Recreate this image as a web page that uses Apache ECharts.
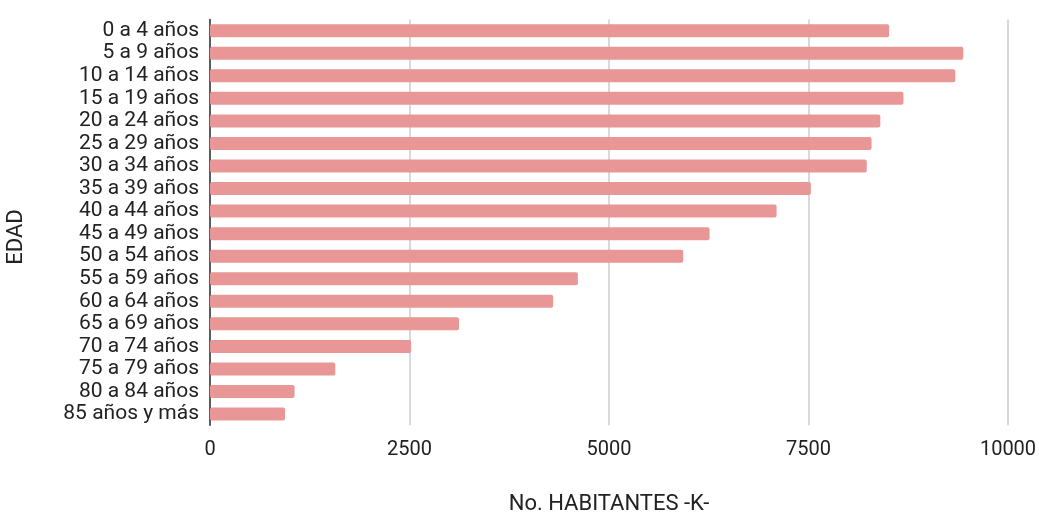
<!DOCTYPE html>
<html>
<head>
<meta charset="utf-8">
<script src="https://cdn.jsdelivr.net/npm/echarts@6/dist/echarts.min.js"></script>
<style>
  html, body { margin: 0; padding: 0; background: #fff; }
  #chart { width: 1039px; height: 512px; }
</style>
</head>
<body>
<div id="chart"></div>
<script>
// Age groups, top to bottom
const categories = [
  '0 a 4 años', '5 a 9 años', '10 a 14 años', '15 a 19 años', '20 a 24 años',
  '25 a 29 años', '30 a 34 años', '35 a 39 años', '40 a 44 años', '45 a 49 años',
  '50 a 54 años', '55 a 59 años', '60 a 64 años', '65 a 69 años', '70 a 74 años',
  '75 a 79 años', '80 a 84 años', '85 años y más'
];
// Inhabitants (thousands) per age group
const habitantes = [
  8510, 9440, 9340, 8690, 8400,
  8290, 8230, 7530, 7100, 6260,
  5930, 4610, 4300, 3120, 2520,
  1570, 1060, 940
];
const xTicks = { min: 0, max: 10000, interval: 2500 };

const font = 'Roboto, "Liberation Sans", Arial, sans-serif';
const chart = echarts.init(document.getElementById('chart'), null, { renderer: 'canvas' });

chart.setOption({
  animation: false,
  grid: {
    left: 210, right: 31, top: 19.4, bottom: 86.7,
    containLabel: false,
    outerBoundsMode: 'none'
  },
  xAxis: {
    type: 'value',
    min: xTicks.min, max: xTicks.max, interval: xTicks.interval,
    name: 'No. HABITANTES -K-',
    nameLocation: 'middle',
    nameGap: 68,
    nameTextStyle: { color: '#222', fontSize: 22, fontFamily: font },
    axisLine: { show: false },
    axisTick: { show: false },
    axisLabel: {
      color: '#222', fontSize: 20, fontFamily: font, margin: 15,
      formatter: v => String(v)
    },
    splitLine: { show: true, lineStyle: { color: '#cccccc', width: 1.5 } }
  },
  yAxis: {
    type: 'category',
    data: categories,
    inverse: true,
    axisLine: { show: true, lineStyle: { color: '#333', width: 1.5 } },
    axisTick: { show: false },
    axisLabel: { color: '#222', fontSize: 21, fontFamily: font, margin: 11, interval: 0 }
  },
  graphic: [{
    type: 'text',
    x: 5, y: 237,
    rotation: Math.PI / 2,
    style: {
      text: 'EDAD',
      fill: '#222',
      font: '22px ' + font,
      textAlign: 'center',
      textVerticalAlign: 'top'
    }
  }],
  series: [{
    type: 'bar',
    data: habitantes,
    barWidth: 13,
    itemStyle: { color: '#e89796', borderRadius: 2 }
  }]
});
</script>
</body>
</html>
